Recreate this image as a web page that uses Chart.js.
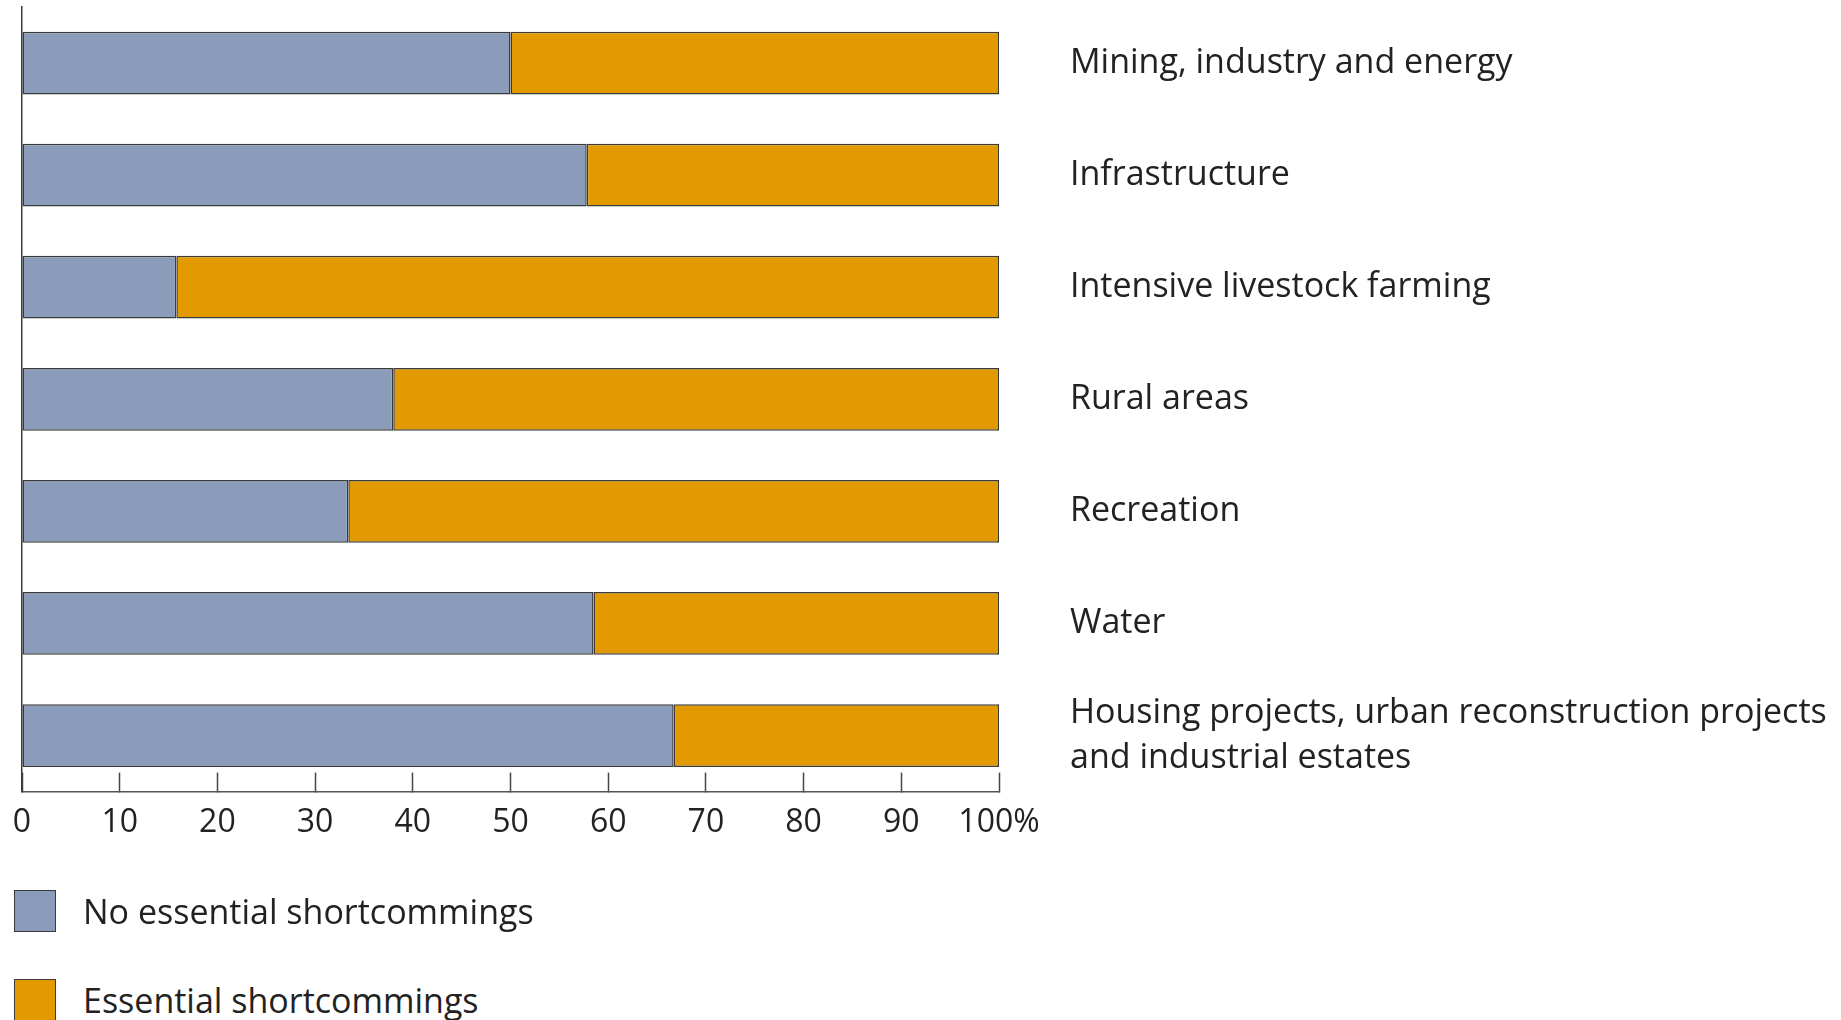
<!DOCTYPE html>
<html>
<head>
<meta charset="utf-8">
<script src="https://cdn.jsdelivr.net/npm/chart.js@4.4.0/dist/chart.umd.min.js"></script>
<style>
  body { margin: 0; background: #fff; font-family: 'Open Sans', sans-serif; color: #222; }
  #wrap { position: relative; width: 1841px; height: 1020px; overflow: hidden; }
  #myChart { position: absolute; left: 0; top: 0; }
  .legendItem { position: absolute; left: 14px; height: 43px; display: flex; align-items: center; font-size: 34px; }
  .legendItem span.box { width: 40px; height: 40px; border: 1.5px solid #3a3a3a; margin-right: 27px; }
</style>
</head>
<body>
<div id="wrap">
  <canvas id="myChart" width="1841" height="898"></canvas>
  <div id="legend"></div>
</div>
<script>
// datos (porcentajes)
const categories = [
  'Mining, industry and energy',
  'Infrastructure',
  'Intensive livestock farming',
  'Rural areas',
  'Recreation',
  'Water',
  ['Housing projects, urban reconstruction projects', 'and industrial estates']
];
const noShortcomings = [50, 57.8, 15.8, 38, 33.4, 58.5, 66.7];
const shortcomings = [50, 42.2, 84.2, 62, 66.6, 41.5, 33.3];
const xTicks = [0, 10, 20, 30, 40, 50, 60, 70, 80, 90, 100];

const seriesNames = ['No essential shortcommings', 'Essential shortcommings'];
const colores = ['#8a9cba', '#e39a00'];
const lineColor = '#3a3a3a';

const grafica = document.getElementById('myChart');

// quitar el padding automatico que chart.js agrega por las etiquetas
const noPadding = axis => {
  axis.paddingTop = 0;
  axis.paddingBottom = 0;
  axis.paddingLeft = 0;
  axis.paddingRight = 0;
};

const myChart = new Chart(grafica, {
  type: 'bar',
  data: {
    labels: categories,
    datasets: [
      { label: seriesNames[0], data: noShortcomings, backgroundColor: colores[0] },
      { label: seriesNames[1], data: shortcomings, backgroundColor: colores[1] }
    ].map(ds => Object.assign(ds, {
      borderColor: lineColor,
      borderWidth: 1.5,
      borderSkipped: false,
      categoryPercentage: 1,
      barPercentage: 0.56
    }))
  },
  options: {
    indexAxis: 'y',
    responsive: false,
    animation: false,
    devicePixelRatio: 1,
    layout: { padding: { left: 22, top: 7, right: 0, bottom: 25 } },
    plugins: { legend: { display: false }, tooltip: { enabled: false } },
    scales: {
      x: {
        stacked: true,
        min: 0,
        max: 100,
        afterBuildTicks: axis => { axis.ticks = xTicks.map(v => ({ value: v })); },
        ticks: {
          callback: v => v === 100 ? '100%' : v,
          font: { family: 'Open Sans', size: 32 },
          color: '#222',
          padding: 31,
          maxRotation: 0
        },
        grid: { drawOnChartArea: false, tickLength: -19, tickColor: '#444', tickWidth: 1.5 },
        border: { color: '#555', width: 1.5 },
        afterFit: noPadding
      },
      y: {
        stacked: true,
        position: 'left',
        ticks: { display: false },
        grid: { display: false, drawTicks: false },
        border: { color: lineColor, width: 1.5 },
        afterFit: noPadding
      },
      y2: {
        type: 'category',
        labels: categories,
        position: 'right',
        offset: true,
        grid: { display: false, drawTicks: false },
        border: { display: false },
        ticks: {
          crossAlign: 'near',
          padding: 71,
          color: '#222',
          font: { family: 'Open Sans', size: 34, lineHeight: 1.33 }
        },
        afterFit: axis => { noPadding(axis); axis.width = 842; }
      }
    }
  }
});

// leyenda en html
const legendTops = [889, 978];
document.getElementById('legend').innerHTML = seriesNames.map((name, i) => `
  <div class="legendItem" style="top:${legendTops[i]}px">
    <span class="box" style="background:${colores[i]}"></span>${name}
  </div>`).join('');
</script>
</body>
</html>
